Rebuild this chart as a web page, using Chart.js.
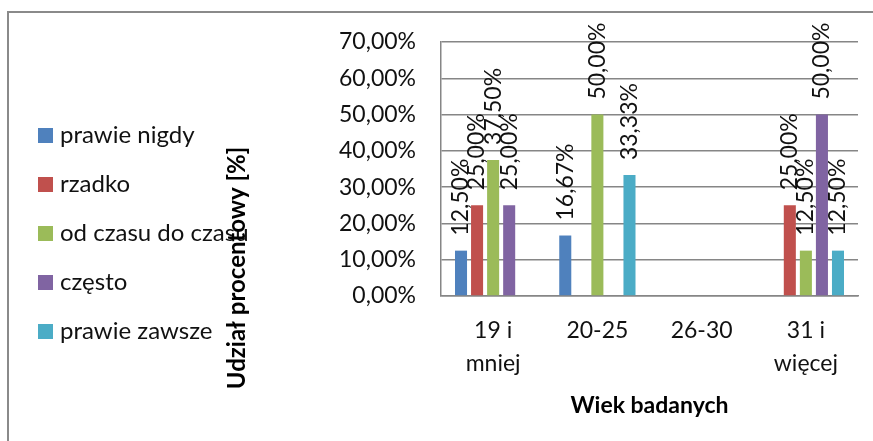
<!DOCTYPE html>
<html>
<head>
<meta charset="utf-8">
<script src="https://cdn.jsdelivr.net/npm/chart.js@4.4.1/dist/chart.umd.min.js"></script>
<style>
  html, body { margin: 0; padding: 0; background: #fff; }
  #wrap { width: 873px; height: 441px; position: relative; }
</style>
</head>
<body>
<div id="wrap"><canvas id="chart"></canvas></div>
<script>
// Age groups and answer shares (percent); null = no bar
const ageGroups = [['19 i', 'mniej'], '20-25', '26-30', ['31 i', 'więcej']];
const prawieNigdy = [12.5, 16.67, null, null];
const rzadko = [25, null, null, 25];
const odCzasuDoCzasu = [37.5, 50, null, 12.5];
const czesto = [25, null, null, 50];
const prawieZawsze = [null, 33.33, null, 12.5];
const seriesNames = ['prawie nigdy', 'rzadko', 'od czasu do czasu', 'często', 'prawie zawsze'];
const seriesColors = ['#4F81BD', '#C0504D', '#9BBB59', '#8064A2', '#4BACC6'];

const FONT = 'Lato, Carlito, "Open Sans", sans-serif';
const TEXT = '#111';
const GRID = '#868686';

function pct(v) {
    return v.toFixed(2).replace('.', ',') + '%';
}

// outer frame, left legend (drawn first so the axis title lies over it)
const framePlugin = {
    id: 'frameAndLegend',
    beforeDraw(chart) {
        const ctx = chart.ctx;
        ctx.save();
        ctx.strokeStyle = '#8a8a8a';
        ctx.lineWidth = 2;
        ctx.beginPath();
        ctx.moveTo(8, 441);
        ctx.lineTo(8, 12);
        ctx.lineTo(873, 12);
        ctx.stroke();

        ctx.font = '24px ' + FONT;
        ctx.textBaseline = 'middle';
        ctx.textAlign = 'left';
        seriesNames.forEach((name, i) => {
            const y = 135 + i * 49;
            ctx.fillStyle = seriesColors[i];
            ctx.fillRect(38, y - 7, 15, 15);
            ctx.fillStyle = TEXT;
            ctx.fillText(name, 60, y);
        });
        ctx.restore();
    },
    afterDraw(chart) {
        const ctx = chart.ctx;
        ctx.save();
        ctx.translate(237, 268);
        ctx.rotate(-Math.PI / 2);
        ctx.font = 'bold 24px ' + FONT;
        ctx.fillStyle = '#000';
        ctx.textAlign = 'center';
        ctx.textBaseline = 'middle';
        ctx.fillText('Udział procentowy [%]', 0, 0);
        ctx.restore();
    }
};

// vertical value labels above each bar
const barLabels = {
    id: 'barLabels',
    afterDatasetsDraw(chart) {
        const ctx = chart.ctx;
        ctx.save();
        ctx.font = '23px ' + FONT;
        ctx.fillStyle = TEXT;
        ctx.textAlign = 'left';
        ctx.textBaseline = 'middle';
        chart.data.datasets.forEach((ds, di) => {
            const meta = chart.getDatasetMeta(di);
            meta.data.forEach((bar, i) => {
                const v = ds.data[i];
                if (v === null || v === undefined) return;
                ctx.save();
                ctx.translate(bar.x, bar.y - 15);
                ctx.rotate(-Math.PI / 2);
                ctx.fillText(pct(v), 0, 0);
                ctx.restore();
            });
        });
        ctx.restore();
    }
};

const allSeries = [prawieNigdy, rzadko, odCzasuDoCzasu, czesto, prawieZawsze];

new Chart(document.getElementById('chart'), {
    type: 'bar',
    data: {
        labels: ageGroups,
        datasets: allSeries.map((data, i) => ({
            label: seriesNames[i],
            data: data,
            backgroundColor: seriesColors[i],
            categoryPercentage: 0.77,
            barPercentage: 0.75
        }))
    },
    options: {
        responsive: true,
        maintainAspectRatio: false,
        animation: false,
        layout: { padding: { left: 0, right: 15, top: 42, bottom: 0 } },
        plugins: {
            legend: { display: false },
            tooltip: { enabled: false }
        },
        scales: {
            x: {
                grid: { display: false, drawTicks: false },
                border: { display: true, color: GRID, width: 1.5 },
                ticks: {
                    color: TEXT,
                    padding: 18,
                    maxRotation: 0,
                    font: { family: FONT, size: 23, lineHeight: 1.43 }
                },
                title: {
                    display: true,
                    text: 'Wiek badanych',
                    color: '#000',
                    padding: { top: 0, bottom: 22 },
                    font: { family: FONT, size: 23, weight: 'bold' }
                },
                afterFit(scale) { scale.height = 145; }
            },
            y: {
                min: 0,
                max: 70,
                grid: { color: GRID, lineWidth: 1.5, drawTicks: false },
                border: { display: true, color: GRID, width: 1.5 },
                ticks: {
                    stepSize: 10,
                    color: TEXT,
                    padding: 25,
                    font: { family: FONT, size: 23 },
                    callback: (v) => pct(v)
                },
                afterFit(scale) { scale.width = 441; }
            }
        }
    },
    plugins: [framePlugin, barLabels]
});
</script>
</body>
</html>
